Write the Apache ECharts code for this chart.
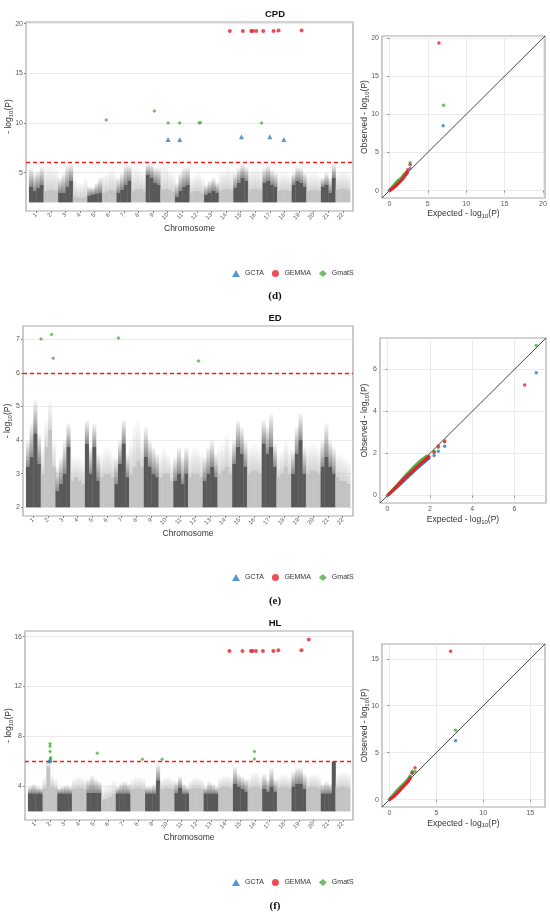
<!DOCTYPE html>
<html>
<head>
<meta charset="utf-8">
<script src="https://cdn.jsdelivr.net/npm/echarts@6/dist/echarts.min.js"></script>
<style>
  html, body { margin: 0; padding: 0; background: #fff; }
  #main { width: 550px; height: 913px; }
</style>
</head>
<body>
<div id="main"></div>
<script>
// ---- data ----
var chromLabels = ['1','2','3','4','5','6','7','8','9','10','11','12','13','14','15','16','17','18','19','20','21','22'];
var chromTicks = chromLabels.map(function (c, i) { return i + 1; });
var methods = ['GCTA', 'GEMMA', 'GmatS'];
var cloudFloor = 2;      // SNPs below -log10(P) = 2 were not plotted
var threshold = 6;       // genome-wide line

// per chromosome, 4 bins: top of the solid cloud / top of the sparse dots
var cpdDense = [
  [3.6,3.2,3.5,3.8],[3.2,3.3,3.3,3.2],[3.0,3.0,3.6,4.2],[2.6,2.5,2.5,2.6],[2.7,2.8,2.9,3.0],
  [3.0,3.2,3.3,3.2],[3.0,3.3,3.8,4.2],[3.2,3.4,3.4,3.2],[4.8,4.5,4.0,3.8],[3.3,3.4,3.3,3.1],
  [2.6,3.2,3.6,3.8],[3.0,3.2,3.2,3.0],[2.8,3.0,3.2,3.0],[3.2,3.4,3.4,3.3],[3.5,4.0,4.5,4.2],
  [3.3,3.4,3.4,3.3],[4.0,4.2,3.8,3.6],[3.2,3.3,3.3,3.2],[3.8,4.2,4.0,3.6],[3.2,3.3,3.3,3.2],
  [3.6,3.8,3.0,4.5],[3.3,3.4,3.4,3.3]
];
var cpdHaze = [
  [5.5,5.0,5.2,5.6],[5.6,5.8,5.6,5.5],[4.5,5.0,5.8,5.9],[4.5,4.0,4.0,4.5],[3.6,3.5,4.0,4.5],
  [4.8,5.0,5.4,5.0],[4.5,5.0,5.9,5.8],[5.5,5.6,5.2,5.0],[5.9,5.9,5.5,5.5],[5.6,5.8,5.2,5.0],
  [4.0,5.0,5.5,5.6],[4.6,4.8,5.0,4.6],[3.8,4.2,4.5,4.0],[5.0,5.3,5.5,5.2],[5.0,5.5,5.9,5.6],
  [5.3,5.5,5.5,5.2],[5.5,5.8,5.3,5.0],[4.8,5.0,5.0,4.8],[5.0,5.6,5.5,5.0],[4.8,5.0,5.0,4.8],
  [4.5,5.0,4.5,5.9],[5.0,5.2,5.2,5.0]
];
var edDense = [
  [3.2,3.5,4.2,3.3],[3.0,3.8,4.3,3.2],[2.5,2.7,3.0,3.8],[2.8,2.9,2.8,2.7],[3.9,3.0,3.8,2.8],
  [2.9,3.0,3.0,2.9],[2.7,3.3,3.9,2.9],[3.0,3.2,3.4,3.2],[3.5,3.2,3.0,2.9],[2.9,3.0,3.0,2.8],
  [2.8,3.0,2.7,3.0],[2.9,3.0,3.0,2.9],[2.8,3.0,3.2,2.9],[3.0,3.1,3.2,3.0],[3.3,3.8,3.6,3.2],
  [3.0,3.1,3.1,3.0],[3.9,3.6,3.8,3.2],[2.9,3.0,3.2,3.0],[3.0,3.6,4.0,3.0],[3.0,3.1,3.1,3.0],
  [3.2,3.5,3.2,3.0],[2.9,2.8,2.8,2.7]
];
var edHaze = [
  [4.0,4.5,5.2,4.2],[3.8,4.6,5.2,4.0],[3.2,3.5,4.0,4.5],[3.5,3.5,3.5,3.4],[4.6,3.8,4.5,3.6],
  [3.6,3.8,3.8,3.6],[3.5,4.0,4.6,3.6],[4.0,4.5,4.6,4.0],[4.4,4.0,3.8,3.6],[3.6,3.8,3.6,3.4],
  [3.5,3.8,3.5,3.8],[3.6,3.8,3.8,3.6],[3.5,3.8,4.0,3.6],[3.8,3.9,4.2,3.8],[4.0,4.6,4.4,4.0],
  [3.8,3.9,3.9,3.8],[4.6,4.4,4.8,3.9],[3.6,3.7,4.0,3.8],[3.7,4.4,4.8,3.8],[3.8,3.9,3.9,3.8],
  [4.0,4.5,4.0,3.8],[3.6,3.6,3.5,3.4]
];
var hlDense = [
  [3.45,3.45,3.45,3.45],[3.9,5.6,4.0,3.9],[3.45,3.45,3.45,3.45],[3.8,3.9,3.9,3.8],[3.5,3.5,3.5,3.5],
  [2.9,3.0,3.2,3.4],[3.45,3.45,3.45,3.45],[3.8,3.9,3.9,3.8],[3.45,3.45,3.45,4.5],[3.8,3.9,3.9,3.8],
  [3.5,3.9,3.45,3.45],[3.8,3.9,3.9,3.8],[3.45,3.45,3.45,3.45],[3.9,4.0,4.0,3.9],[4.2,4.0,3.8,3.6],
  [3.9,4.0,4.0,3.9],[3.8,3.6,4.0,3.6],[3.9,4.0,4.0,3.9],[4.0,4.2,4.2,3.8],[3.9,4.0,4.0,3.9],
  [3.45,3.45,3.45,6.0],[3.9,4.0,4.0,3.9]
];
var hlHaze = [
  [4.0,4.2,4.0,3.9],[4.8,6.1,5.0,4.6],[3.9,4.0,4.1,4.0],[4.6,4.8,4.8,4.6],[4.6,4.9,4.6,4.4],
  [3.9,4.1,4.3,4.5],[4.0,4.3,4.4,4.2],[4.6,4.8,4.8,4.7],[4.0,4.0,4.2,5.8],[4.6,4.8,4.8,4.6],
  [4.4,4.8,4.2,4.0],[4.5,4.8,4.7,4.6],[4.0,4.4,4.2,4.0],[4.7,4.9,4.9,4.8],[5.6,5.0,4.8,4.6],
  [4.8,5.2,5.2,4.8],[5.0,4.6,5.5,4.6],[4.8,5.0,5.0,4.8],[5.2,5.5,5.5,5.0],[4.8,5.0,5.0,4.8],
  [4.2,4.4,4.2,6.0],[5.0,5.2,5.2,5.0]
];

// significant SNPs [chromosome position, -log10(P)]
var cpdGcta  = [[10.03,8.33],[10.83,8.33],[15.06,8.6],[17.0,8.6],[17.96,8.33]];
var cpdGemma = [[14.26,19.25],[15.15,19.25],[15.73,19.25],[15.84,19.25],[16.07,19.25],[16.55,19.25],[17.26,19.25],[17.6,19.3],[19.18,19.3]];
var cpdGmats = [[5.8,10.3],[9.09,11.2],[10.03,10.0],[10.83,10.0],[12.16,10.0],[12.25,10.05],[16.43,10.0]];
var edGcta  = [];
var edGemma = [];
var edGmats = [[1.52,7.0],[2.24,7.14],[2.35,6.43],[6.78,7.03],[12.21,6.35]];
var hlGcta  = [[2.01,6.15],[1.98,6.05]];
var hlGemma = [[14.26,14.85],[15.15,14.85],[15.73,14.85],[15.84,14.85],[16.07,14.85],[16.55,14.85],[17.26,14.85],[17.6,14.9],[19.18,14.9],[19.68,15.76]];
var hlGmats = [[2.01,7.41],[2.01,7.22],[2.01,6.8],[2.05,6.3],[2.05,6.2],[5.23,6.65],[8.32,6.17],[9.66,6.17],[15.97,6.8],[15.97,6.2]];

// QQ: dense band [expected, observed] and isolated points
var cpdQQBand = {
  GCTA:  [[0,0],[0.5,0.5],[1.0,1.0],[1.5,1.5],[2.0,2.0],[2.4,2.4]],
  GEMMA: [[0,0],[0.5,0.35],[1.0,0.8],[1.5,1.3],[2.0,1.9],[2.4,2.6]],
  GmatS: [[0,0],[0.5,0.6],[1.0,1.2],[1.5,1.6],[2.0,2.2],[2.4,2.6]]
};
var cpdQQTail = {
  GCTA:  [[2.7,2.9],[7.0,8.5]],
  GEMMA: [[2.4,2.75],[2.7,3.4],[6.45,19.35]],
  GmatS: [[2.7,3.65],[7.05,11.2]]
};
var edQQBand = {
  GCTA:  [[0,0],[0.5,0.45],[1.0,0.92],[1.5,1.38],[2.0,1.8]],
  GEMMA: [[0,0],[0.5,0.5],[1.0,1.0],[1.5,1.45],[2.0,1.9]],
  GmatS: [[0,0],[0.5,0.55],[1.0,1.1],[1.5,1.6],[1.9,1.9]]
};
var edQQTail = {
  GCTA:  [[2.2,1.9],[2.4,2.1],[2.7,2.34],[7.03,5.84]],
  GEMMA: [[2.2,2.05],[2.4,2.35],[2.7,2.55],[6.48,5.25]],
  GmatS: [[2.2,2.1],[2.4,2.3],[2.7,2.6],[7.03,7.13]]
};
var hlQQBand = {
  GCTA:  [[0,0],[0.5,0.5],[1.0,1.0],[1.5,1.5],[2.0,2.05]],
  GEMMA: [[0,0],[0.5,0.35],[1.0,0.85],[1.5,1.4],[2.0,1.95],[2.3,2.4]],
  GmatS: [[0,0],[0.5,0.6],[1.0,1.15],[1.5,1.65],[2.0,2.2],[2.3,2.6]]
};
var hlQQTail = {
  GCTA:  [[2.44,2.8],[7.05,6.27]],
  GEMMA: [[2.4,2.85],[2.73,3.4],[6.52,15.8]],
  GmatS: [[2.44,3.0],[2.73,3.0],[7.05,7.39]]
};

// axis ranges and ticks
var manX = [0.3, 22.7];
var cpdManY = [1.135, 20.165], cpdManTicks = [5, 10, 15, 20];
var edManY  = [1.743, 7.39],   edManTicks  = [2, 3, 4, 5, 6, 7];
var hlManY  = [1.31, 16.45],   hlManTicks  = [4, 8, 12, 16];
var cpdQQ = [-0.965, 20.27], cpdQQTicks = [0, 5, 10, 15, 20];
var edQQ  = [-0.357, 7.49],  edQQTicks  = [0, 2, 4, 6];
var hlQQ  = [-0.79, 16.58],  hlQQTicks  = [0, 5, 10, 15];

// ---- styles ----
var colors = { GCTA: '#2f7dc0', GEMMA: '#e8202a', GmatS: '#4cae3f' };
var shapes = { GCTA: 'triangle', GEMMA: 'circle', GmatS: 'diamond' };
var sizes  = { GCTA: 5, GEMMA: 4, GmatS: 4 };
var darkRgb = '89,89,89', lightRgb = '195,195,195';

var panels = [
  { title: 'CPD', letter: '(d)', dense: cpdDense, haze: cpdHaze, hits: { GCTA: cpdGcta, GEMMA: cpdGemma, GmatS: cpdGmats },
    manY: cpdManY, manTicks: cpdManTicks, qq: cpdQQ, qqTicks: cpdQQTicks, band: cpdQQBand, tail: cpdQQTail,
    man: { left: 26, top: 22, width: 327, height: 189 }, qqGrid: { left: 382, top: 36, width: 163, height: 162 },
    titleTop: 4, legendTop: 265, letterTop: 286, manNameGap: 12, qqNameGap: 12, qqXGap: 11 },
  { title: 'ED', letter: '(e)', dense: edDense, haze: edHaze, hits: { GCTA: edGcta, GEMMA: edGemma, GmatS: edGmats },
    manY: edManY, manTicks: edManTicks, qq: edQQ, qqTicks: edQQTicks, band: edQQBand, tail: edQQTail,
    man: { left: 23, top: 326, width: 330, height: 190 }, qqGrid: { left: 380, top: 338, width: 166, height: 165 },
    titleTop: 308, legendTop: 569, letterTop: 591, manNameGap: 10, qqNameGap: 10, qqXGap: 12 },
  { title: 'HL', letter: '(f)', dense: hlDense, haze: hlHaze, hits: { GCTA: hlGcta, GEMMA: hlGemma, GmatS: hlGmats },
    manY: hlManY, manTicks: hlManTicks, qq: hlQQ, qqTicks: hlQQTicks, band: hlQQBand, tail: hlQQTail,
    man: { left: 25, top: 631, width: 328, height: 189 }, qqGrid: { left: 382, top: 644, width: 163, height: 163 },
    titleTop: 613, legendTop: 874, letterTop: 896, manNameGap: 11, qqNameGap: 12, qqXGap: 11.5 }
];

function cloudData(dense, haze) {
  var out = [];
  dense.forEach(function (bins, i) {
    bins.forEach(function (d, b) {
      out.push([chromTicks[i], b, d, haze[i][b], bins.length]);
    });
  });
  return out;
}

function cloudItem(params, api) {
  var c = api.value(0), b = api.value(1), d = api.value(2), h = api.value(3), nb = api.value(4);
  var x0 = c - 0.5 + b / nb, x1 = x0 + 1 / nb;
  var pBase = api.coord([x0, cloudFloor]);
  var pDense = api.coord([x1, d]);
  var pHaze = api.coord([x1, h]);
  var rgb = (c % 2 === 1) ? darkRgb : lightRgb;
  var w = pDense[0] - pBase[0] + 0.4;
  return {
    type: 'group',
    children: [
      { type: 'rect', shape: { x: pBase[0], y: pHaze[1], width: w, height: pDense[1] - pHaze[1] },
        style: { fill: new echarts.graphic.LinearGradient(0, 0, 0, 1, [
          { offset: 0, color: 'rgba(' + rgb + ',0.03)' },
          { offset: 1, color: 'rgba(' + rgb + ',0.7)' }]) } },
      { type: 'rect', shape: { x: pBase[0], y: pDense[1], width: w, height: pBase[1] - pDense[1] },
        style: { fill: 'rgb(' + rgb + ')' } }
    ]
  };
}

var subRich = { s: { fontSize: 6, padding: [4, 0, 0, 0], color: '#333' } };
var nameStyle = { fontSize: 8.5, color: '#333', rich: subRich };
var tickLabel = { fontSize: 7, color: '#5a5a5a', margin: 3 };

var grids = [], xAxes = [], yAxes = [], series = [], titles = [], legends = [];

panels.forEach(function (p, k) {
  var gm = 2 * k, gq = 2 * k + 1;
  var gridBase = { show: true, borderColor: '#a8a8a8', borderWidth: 1.2, backgroundColor: '#fff',
    containLabel: false, outerBoundsMode: 'none' };
  grids.push(Object.assign({}, gridBase, p.man));
  grids.push(Object.assign({}, gridBase, p.qqGrid));

  titles.push({ text: p.title, left: 'center', top: p.titleTop,
    textStyle: { fontSize: 9.5, fontWeight: 'bold', color: '#111', fontFamily: 'Liberation Sans' } });
  titles.push({ text: p.letter, left: 'center', top: p.letterTop,
    textStyle: { fontSize: 11, fontWeight: 'bold', color: '#111', fontFamily: 'Liberation Serif' } });

  legends.push({
    top: p.legendTop, left: 227, itemWidth: 8, itemHeight: 7, itemGap: 8,
    textStyle: { fontSize: 7, color: '#333' },
    data: methods.map(function (m) { return { name: m, icon: shapes[m] }; })
  });

  // Manhattan axes
  xAxes.push({
    gridIndex: gm, type: 'value', min: manX[0], max: manX[1],
    axisLine: { show: false }, splitLine: { show: false },
    axisTick: { show: true, customValues: chromTicks, length: 2, lineStyle: { color: '#888' } },
    axisLabel: { customValues: chromTicks, rotate: 45, fontSize: 6, color: '#5a5a5a', margin: 3,
      formatter: function (v) { return chromLabels[v - 1]; } },
    name: 'Chromosome', nameLocation: 'middle', nameGap: 13, nameMoveOverlap: false,
    nameTextStyle: { fontSize: 8.5, color: '#333' }
  });
  yAxes.push({
    gridIndex: gm, type: 'value', min: p.manY[0], max: p.manY[1],
    axisLine: { show: false },
    axisTick: { show: true, customValues: p.manTicks, length: 2, lineStyle: { color: '#888' } },
    axisLabel: Object.assign({ customValues: p.manTicks }, tickLabel),
    splitLine: { show: true, lineStyle: { color: '#e6e6e6', width: 0.8 } },
    name: '- log{s|10}(P)', nameLocation: 'middle', nameRotate: 90, nameGap: p.manNameGap,
    nameMoveOverlap: false, nameTextStyle: nameStyle
  });
  // QQ axes
  xAxes.push({
    gridIndex: gq, type: 'value', min: p.qq[0], max: p.qq[1],
    axisLine: { show: false },
    axisTick: { show: true, customValues: p.qqTicks, length: 2, lineStyle: { color: '#888' } },
    axisLabel: Object.assign({ customValues: p.qqTicks }, tickLabel),
    splitLine: { show: true, lineStyle: { color: '#e6e6e6', width: 0.8 } },
    name: 'Expected - log{s|10}(P)', nameLocation: 'middle', nameGap: p.qqXGap,
    nameMoveOverlap: false, nameTextStyle: nameStyle
  });
  yAxes.push({
    gridIndex: gq, type: 'value', min: p.qq[0], max: p.qq[1],
    axisLine: { show: false },
    axisTick: { show: true, customValues: p.qqTicks, length: 2, lineStyle: { color: '#888' } },
    axisLabel: Object.assign({ customValues: p.qqTicks }, tickLabel),
    splitLine: { show: true, lineStyle: { color: '#e6e6e6', width: 0.8 } },
    name: 'Observed - log{s|10}(P)', nameLocation: 'middle', nameRotate: 90, nameGap: p.qqNameGap,
    nameMoveOverlap: false, nameTextStyle: nameStyle
  });

  // Manhattan cloud
  series.push({
    type: 'custom', xAxisIndex: gm, yAxisIndex: gm, silent: true, z: 1,
    renderItem: cloudItem, encode: { x: 0, y: 2 },
    data: cloudData(p.dense, p.haze)
  });
  // threshold line
  series.push({
    type: 'line', xAxisIndex: gm, yAxisIndex: gm, data: [], silent: true,
    markLine: { silent: true, symbol: 'none', label: { show: false },
      lineStyle: { color: '#ff1a1a', type: [4, 3], width: 1.3 },
      data: [{ yAxis: threshold }] }
  });
  methods.forEach(function (m) {
    series.push({
      name: m, type: 'scatter', xAxisIndex: gm, yAxisIndex: gm, z: 5,
      symbol: shapes[m], symbolSize: sizes[m], itemStyle: { color: colors[m] },
      data: p.hits[m]
    });
  });

  // QQ diagonal
  series.push({
    type: 'line', xAxisIndex: gq, yAxisIndex: gq, silent: true, z: 2, symbol: 'none',
    lineStyle: { color: '#333', width: 0.9 },
    data: [[p.qq[0], p.qq[0]], [p.qq[1], p.qq[1]]]
  });
  ['GCTA', 'GmatS', 'GEMMA'].forEach(function (m) {
    series.push({
      name: m, type: 'line', xAxisIndex: gq, yAxisIndex: gq, z: 3, symbol: 'none', smooth: true,
      lineStyle: { color: colors[m], width: 3 }, itemStyle: { color: colors[m] },
      data: p.band[m]
    });
    series.push({
      name: m, type: 'scatter', xAxisIndex: gq, yAxisIndex: gq, z: 4,
      symbol: 'circle', symbolSize: 3.5, itemStyle: { color: colors[m] },
      data: p.tail[m]
    });
  });
});

var chart = echarts.init(document.getElementById('main'), null, { renderer: 'canvas' });
chart.setOption({
  animation: false,
  backgroundColor: '#fff',
  textStyle: { fontFamily: 'Liberation Sans' },
  title: titles,
  legend: legends,
  grid: grids,
  xAxis: xAxes,
  yAxis: yAxes,
  series: series
});
</script>
</body>
</html>
